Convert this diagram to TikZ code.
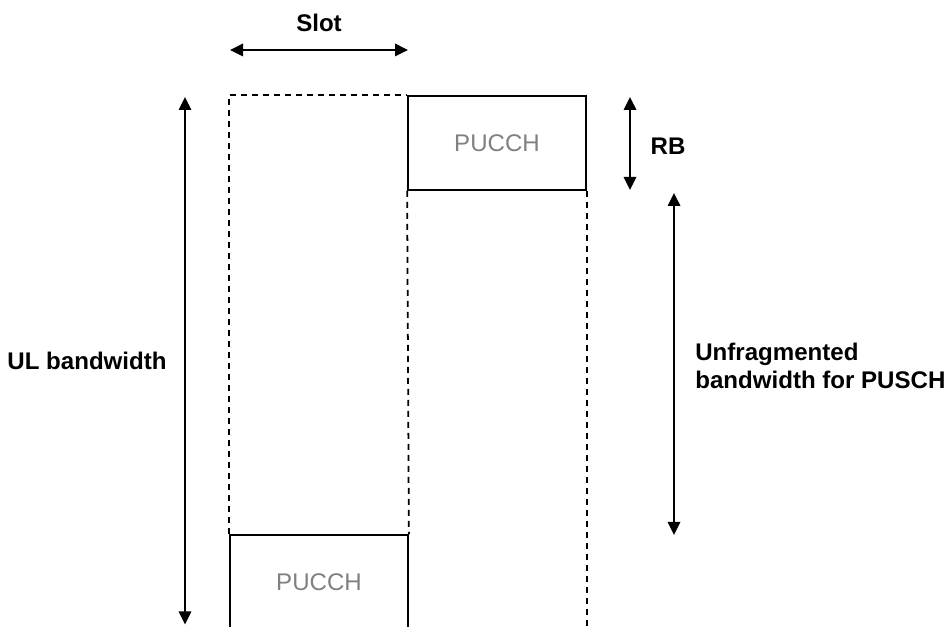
\documentclass[tikz,border=0pt]{standalone}
\usepackage{fontspec}
\setmainfont{Liberation Sans}
\usepackage{tikz}
\usepackage{xcolor}
\usetikzlibrary{positioning,arrows.meta,calc}

\begin{document}
\begin{tikzpicture}[
      x=1cm, y=1cm,
      rbox/.style={draw, line width=1pt, minimum width=3.56cm, minimum height=1.88cm, inner sep=0pt, text=black!50, font=\fontsize{13.7}{16}\selectfont},
      lbl/.style={font=\bfseries\fontsize{13.7}{16}\selectfont, align=left, inner sep=0pt},
      grid/.style={dash pattern=on 0.12cm off 0.1cm, line width=1pt},
      arr/.style={{Triangle[length=0.26cm,width=0.25cm]}-{Triangle[length=0.26cm,width=0.25cm]}, line width=1pt}
  ]
    \useasboundingbox (0,0) rectangle (18.94,12.54);
    % resource blocks
    \node[rbox] (pucchA) at (9.94,9.68) {PUCCH};
    \node[rbox] (pucchB) at (6.38,0.9) {PUCCH};
    \coordinate (corner) at (pucchB.west |- pucchA.north);
    \draw[grid] (pucchB.north west) -- (corner) -- (pucchA.north west);
    \draw[grid] (pucchA.south west) -- (pucchB.north east);
    \draw[grid] (pucchA.south east) -- ++(0,-8.8);
    % dimension arrows
    \coordinate (slotL) at (4.6,11.54);
    \coordinate (slotR) at (8.16,11.54);
    \coordinate (ulT) at (3.7,10.6);
    \coordinate (ulB) at (3.7,0.05);
    \coordinate (rbT) at (12.6,10.6);
    \coordinate (rbB) at (12.6,8.74);
    \coordinate (puT) at (13.48,8.68);
    \coordinate (puB) at (13.48,1.84);
    \draw[arr] (slotL) -- (slotR);
    \draw[arr] (ulT) -- (ulB);
    \draw[arr] (rbT) -- (rbB);
    \draw[arr] (puT) -- (puB);
    \node[lbl] (slot) at (6.38,12.08) {Slot};
    \node[lbl] (ulbw) at (1.74,5.32) {UL bandwidth};
    \node[lbl] (rb) at (13.36,9.62) {RB};
    \node[lbl, anchor=west] (pusch) at (13.9,5.22) {Unfragmented\\bandwidth for PUSCH};
  \end{tikzpicture}
\end{document}
